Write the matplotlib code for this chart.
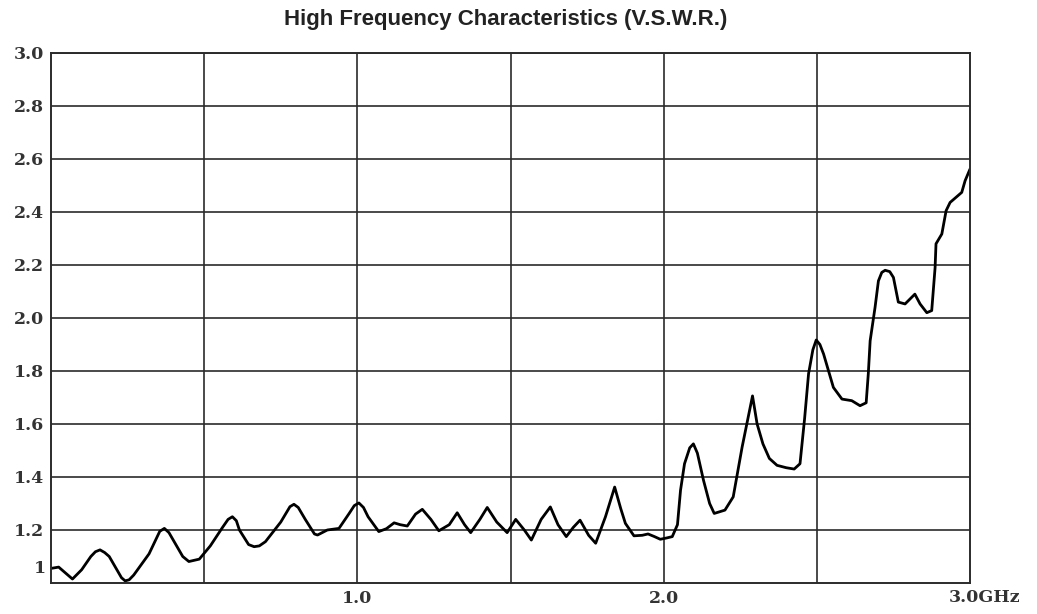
import numpy as np
import matplotlib
matplotlib.use("Agg")
import matplotlib.pyplot as plt

# V.S.W.R. curve
freq_ghz = [0.0, 0.025, 0.045, 0.07, 0.1, 0.13, 0.145, 0.16, 0.175, 0.19,
            0.215, 0.23, 0.242, 0.255, 0.27, 0.32, 0.355, 0.37, 0.385, 0.40,
            0.43, 0.45, 0.484, 0.52, 0.56, 0.578, 0.592, 0.605, 0.615, 0.645,
            0.663, 0.68, 0.70, 0.75, 0.78, 0.793, 0.807, 0.83, 0.86, 0.87,
            0.885, 0.902, 0.94, 0.973, 0.99, 1.005, 1.02, 1.035, 1.07, 1.095,
            1.12, 1.14, 1.163, 1.19, 1.212, 1.24, 1.266, 1.30, 1.326, 1.35,
            1.37, 1.40, 1.424, 1.455, 1.489, 1.517, 1.545, 1.568, 1.60, 1.63,
            1.655, 1.682, 1.705, 1.727, 1.755, 1.778, 1.81, 1.84, 1.86, 1.875,
            1.903, 1.93, 1.949, 1.97, 1.989, 2.01, 2.028, 2.045, 2.055, 2.068,
            2.085, 2.097, 2.11, 2.13, 2.15, 2.165, 2.2, 2.227, 2.256, 2.275,
            2.29, 2.305, 2.324, 2.345, 2.37, 2.40, 2.426, 2.445, 2.46, 2.473,
            2.487, 2.498, 2.51, 2.522, 2.554, 2.582, 2.614, 2.641, 2.661, 2.668,
            2.674, 2.69, 2.701, 2.712, 2.723, 2.738, 2.75, 2.766, 2.788, 2.82,
            2.837, 2.859, 2.875, 2.886, 2.889, 2.908, 2.922, 2.935, 2.973, 2.984,
            3.0]
vswr = [1.055, 1.06, 1.04, 1.015, 1.05, 1.10, 1.118, 1.125, 1.115, 1.10,
        1.05, 1.02, 1.008, 1.012, 1.03, 1.11, 1.195, 1.206, 1.19, 1.16,
        1.10, 1.081, 1.09, 1.14, 1.21, 1.24, 1.25, 1.235, 1.20, 1.145,
        1.137, 1.14, 1.156, 1.23, 1.288, 1.297, 1.285, 1.24, 1.185, 1.181,
        1.19, 1.20, 1.206, 1.262, 1.292, 1.302, 1.285, 1.25, 1.194, 1.205,
        1.227, 1.22, 1.215, 1.26, 1.278, 1.24, 1.197, 1.22, 1.265, 1.22,
        1.19, 1.24, 1.285, 1.23, 1.19, 1.24, 1.20, 1.162, 1.24, 1.287,
        1.22, 1.175, 1.21, 1.237, 1.18, 1.15, 1.25, 1.362, 1.28, 1.225,
        1.178, 1.18, 1.185, 1.175, 1.165, 1.17, 1.175, 1.22, 1.35, 1.45,
        1.51, 1.525, 1.49, 1.3875, 1.30, 1.2625, 1.275, 1.325, 1.5125, 1.62,
        1.706, 1.60, 1.525, 1.47, 1.444, 1.435, 1.43, 1.45, 1.62, 1.79,
        1.88, 1.917, 1.90, 1.864, 1.738, 1.694, 1.688, 1.669, 1.68, 1.79,
        1.914, 2.04, 2.14, 2.172, 2.18, 2.175, 2.153, 2.06, 2.053, 2.09,
        2.053, 2.02, 2.028, 2.19, 2.28, 2.317, 2.405, 2.436, 2.474, 2.518,
        2.562]

y_ticks = [1.2, 1.4, 1.6, 1.8, 2.0, 2.2, 2.4, 2.6, 2.8, 3.0]
y_labels = ["1.2", "1.4", "1.6", "1.8", "2.0", "2.2", "2.4", "2.6", "2.8", "3.0"]
x_ticks = [0.5, 1.0, 1.5, 2.0, 2.5]
x_labels = ["", "1.0", "", "2.0", ""]

grid_col = "#2b2b2b"
tick_font = dict(family="DejaVu Serif", fontweight="bold", fontsize=12.5, color="#333333")

fig = plt.figure(figsize=(10.37, 6.14), dpi=100)
ax = fig.add_axes([0.0492, 0.0505, 0.8862, 0.8632])

ax.plot(freq_ghz, vswr, color="black", linewidth=2.0,
        solid_joinstyle="round", solid_capstyle="round")

ax.set_xlim(0, 3.0)
ax.set_ylim(1.0, 3.0)
ax.set_xticks(x_ticks)
ax.set_xticklabels(x_labels, **tick_font)
ax.set_yticks(y_ticks)
ax.set_yticklabels(y_labels, **tick_font)
ax.tick_params(length=0, pad=5)
ax.grid(True, color=grid_col, linewidth=1.2)
for s in ax.spines.values():
    s.set_color(grid_col)
    s.set_linewidth(1.4)

# bottom-left "1" sits a little above the axis line
ax.text(-0.017, 1.055, "1", ha="right", va="center", **tick_font)
ax.text(2.93, 0.945, "3.0GHz", ha="left", va="center", **tick_font)

fig.text(0.488, 0.968, "High Frequency Characteristics (V.S.W.R.)",
         ha="center", va="center", fontsize=16, fontweight="bold",
         family="Liberation Sans", color="#222222")

fig.savefig("out.png", dpi=100)
